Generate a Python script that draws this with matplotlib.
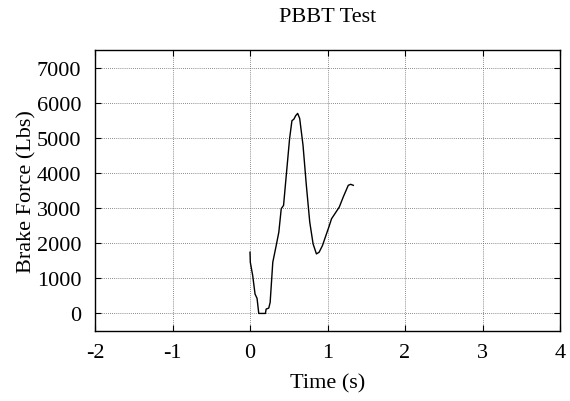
import matplotlib as mpl
mpl.use('Agg')
import matplotlib.pyplot as plt

# brake force trace
time_s = [0.0, 0.004, 0.035, 0.065, 0.091, 0.113, 0.199, 0.208, 0.242, 0.26,
          0.294, 0.338, 0.372, 0.403, 0.433, 0.468, 0.511, 0.541, 0.567, 0.589,
          0.615, 0.641, 0.684, 0.727, 0.771, 0.814, 0.857, 0.892, 0.935, 0.987,
          1.017, 1.052, 1.095, 1.152, 1.203, 1.268, 1.299, 1.333]
force_lbs = [1743, 1457, 1076, 552, 429, 0, 0, 124, 152, 314,
             1457, 1933, 2314, 2981, 3076, 3933, 4981, 5486, 5533, 5629,
             5695, 5552, 4790, 3648, 2600, 1981, 1695, 1743, 1933, 2267,
             2457, 2695, 2838, 3029, 3314, 3648, 3676, 3648]

xticks = [-2, -1, 0, 1, 2, 3, 4]
yticks = [0, 1000, 2000, 3000, 4000, 5000, 6000, 7000]

plt.rcParams['font.family'] = ['Liberation Serif', 'DejaVu Serif']
plt.rcParams['font.size'] = 16

fig = plt.figure(figsize=(5.7, 4.02), dpi=100)
ax = fig.add_axes([95/570, 1-332/402, 465/570, 281/402])

ax.plot(time_s, force_lbs, color='black', linewidth=1.0)

ax.set_xlim(-2, 4)
ax.set_ylim(-500, 7500)
ax.set_xticks(xticks)
ax.set_xticklabels([str(t) for t in xticks])
ax.set_yticks(yticks)
ax.set_yticklabels([str(t) for t in yticks])

ax.tick_params(direction='in', top=True, right=True, length=4, width=0.8)
ax.tick_params(axis='y', pad=10)
ax.tick_params(axis='x', pad=9)
ax.grid(True, linestyle=(0, (1, 1.5)), color='#666666', linewidth=0.6)
for s in ax.spines.values():
    s.set_linewidth(1.0)

ax.set_xlabel('Time (s)', labelpad=8)
ax.set_ylabel('Brake Force (Lbs)', labelpad=0)
fig.text((95+560)/2/570, 1-17/402, 'PBBT Test', ha='center', va='center')

fig.savefig('out.png', dpi=100)
